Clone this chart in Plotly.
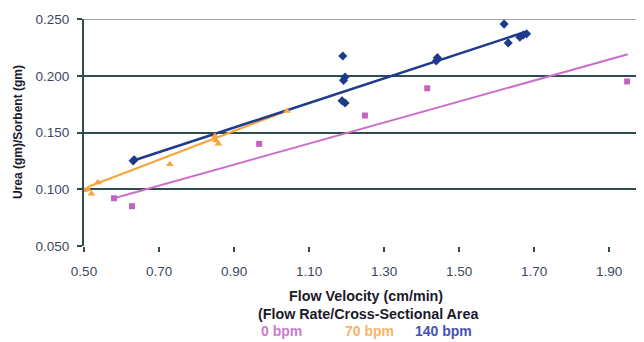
import plotly.graph_objects as go

# ---- data ----
vel_0 = [0.58, 0.628, 0.967, 1.249, 1.415, 1.948]
urea_0 = [0.092, 0.085, 0.140, 0.165, 0.189, 0.195]

vel_70 = [0.50, 0.51, 0.52, 0.537, 0.729, 0.849, 0.852, 0.858, 1.041]
urea_70 = [0.099, 0.100, 0.096, 0.106, 0.122, 0.147, 0.143, 0.140, 0.169]

vel_140 = [0.631, 0.634, 1.190, 1.196, 1.192, 1.188, 1.196, 1.439, 1.442,
           1.620, 1.631, 1.662, 1.671, 1.680]
urea_140 = [0.125, 0.126, 0.2175, 0.199, 0.196, 0.178, 0.176, 0.213, 0.216,
            0.2456, 0.229, 0.234, 0.236, 0.237]

fit_x_0 = [0.58, 1.95]
fit_y_0 = [0.092, 0.219]
fit_x_70 = [0.51, 1.04]
fit_y_70 = [0.102, 0.169]
fit_x_140 = [0.63, 1.676]
fit_y_140 = [0.125, 0.2386]

x_ticks = [0.50, 0.70, 0.90, 1.10, 1.30, 1.50, 1.70, 1.90]
y_ticks = [0.050, 0.100, 0.150, 0.200, 0.250]

PINK = "#c462c0"
ORANGE = "#f7a43c"
BLUE = "#1e3a8a"
GRID = "#2f4d4d"
TICKC = "#3c4860"
FONT = "Liberation Sans, Arial, sans-serif"

# the page body adds an 8px offset, so the figure is sized to fill the rest
PW, PH = 560, 227          # plot area in pixels
OFF = 8

fig = go.Figure()

# trend lines
fig.add_trace(go.Scatter(x=fit_x_0, y=fit_y_0, mode="lines",
                         line=dict(color="#cc6fcc", width=2), showlegend=False))
fig.add_trace(go.Scatter(x=fit_x_70, y=fit_y_70, mode="lines",
                         line=dict(color=ORANGE, width=2.2), showlegend=False))
fig.add_trace(go.Scatter(x=fit_x_140, y=fit_y_140, mode="lines",
                         line=dict(color="#1f3c8c", width=2.6), showlegend=False))

# data points
fig.add_trace(go.Scatter(x=vel_0, y=urea_0, mode="markers",
                         marker=dict(symbol="square", size=6, color=PINK),
                         showlegend=False))
fig.add_trace(go.Scatter(x=vel_70, y=urea_70, mode="markers",
                         marker=dict(symbol="triangle-up", size=7, color=ORANGE),
                         showlegend=False))
fig.add_trace(go.Scatter(x=vel_140, y=urea_140, mode="markers",
                         marker=dict(symbol="diamond", size=7, color=BLUE),
                         showlegend=False))

fig.update_layout(
    width=644 - OFF, height=342 - OFF,
    margin=dict(l=84 - OFF, r=0, t=19 - OFF, b=96),
    paper_bgcolor="white", plot_bgcolor="white",
    font=dict(family=FONT, size=13, color=TICKC),
    xaxis=dict(range=[0.5, 1.993], tickvals=x_ticks,
               ticktext=[f"{v:.2f}" for v in x_ticks],
               showgrid=False, zeroline=False,
               showline=False, ticks="outside", ticklen=5, tickwidth=2,
               tickcolor=GRID, ticklabelstandoff=8,
               tickfont=dict(size=13.5, color=TICKC)),
    yaxis=dict(range=[0.0499, 0.2501], tickvals=y_ticks,
               ticktext=[f"{v:.3f}" for v in y_ticks],
               showgrid=True, gridcolor=GRID, gridwidth=2, zeroline=False,
               showline=True, linecolor=GRID, linewidth=2,
               ticks="outside", ticklen=5, tickwidth=2, tickcolor=GRID,
               ticklabelstandoff=5,
               tickfont=dict(size=13.5, color=TICKC)),
)

# lighter top border line of the plot area
fig.add_shape(type="line", xref="paper", yref="y", x0=0, x1=1,
              y0=y_ticks[-1], y1=y_ticks[-1],
              line=dict(color="#9aa6a6", width=2), layer="above")


def px_x(sx):
    return (sx - 84) / PW


def px_y(sy):
    return (246 - sy) / PH


# x-axis title lines and colored legend labels
fig.add_annotation(text="<b>Flow Velocity (cm/min)</b>", xref="paper", yref="paper",
                   x=px_x(366), y=px_y(296), xanchor="center",
                   yanchor="middle", showarrow=False,
                   font=dict(size=14.3, color="#1a1a2a", family=FONT))
fig.add_annotation(text="<b>(Flow Rate/Cross-Sectional Area</b>", xref="paper", yref="paper",
                   x=px_x(368), y=px_y(314), xanchor="center",
                   yanchor="middle", showarrow=False,
                   font=dict(size=14.3, color="#1a1a2a", family=FONT))
fig.add_annotation(text="<b>0 bpm</b>", xref="paper", yref="paper",
                   x=px_x(259), y=px_y(331), xanchor="left",
                   yanchor="middle", showarrow=False,
                   font=dict(size=14, color="#c97ccb", family=FONT))
fig.add_annotation(text="<b>70 bpm</b>", xref="paper", yref="paper",
                   x=px_x(343), y=px_y(331), xanchor="left",
                   yanchor="middle", showarrow=False,
                   font=dict(size=14, color="#f8b468", family=FONT))
fig.add_annotation(text="<b>140 bpm</b>", xref="paper", yref="paper",
                   x=px_x(413), y=px_y(331), xanchor="left",
                   yanchor="middle", showarrow=False,
                   font=dict(size=14, color="#4552b4", family=FONT))

# y-axis title
fig.add_annotation(text="<b>Urea (gm)/Sorbent (gm)</b>", xref="paper", yref="paper",
                   x=px_x(17.5), y=0.5, xanchor="center", yanchor="middle",
                   textangle=-90, showarrow=False,
                   font=dict(size=12, color="#1a1a2a", family=FONT))

fig.write_html("out.html")
